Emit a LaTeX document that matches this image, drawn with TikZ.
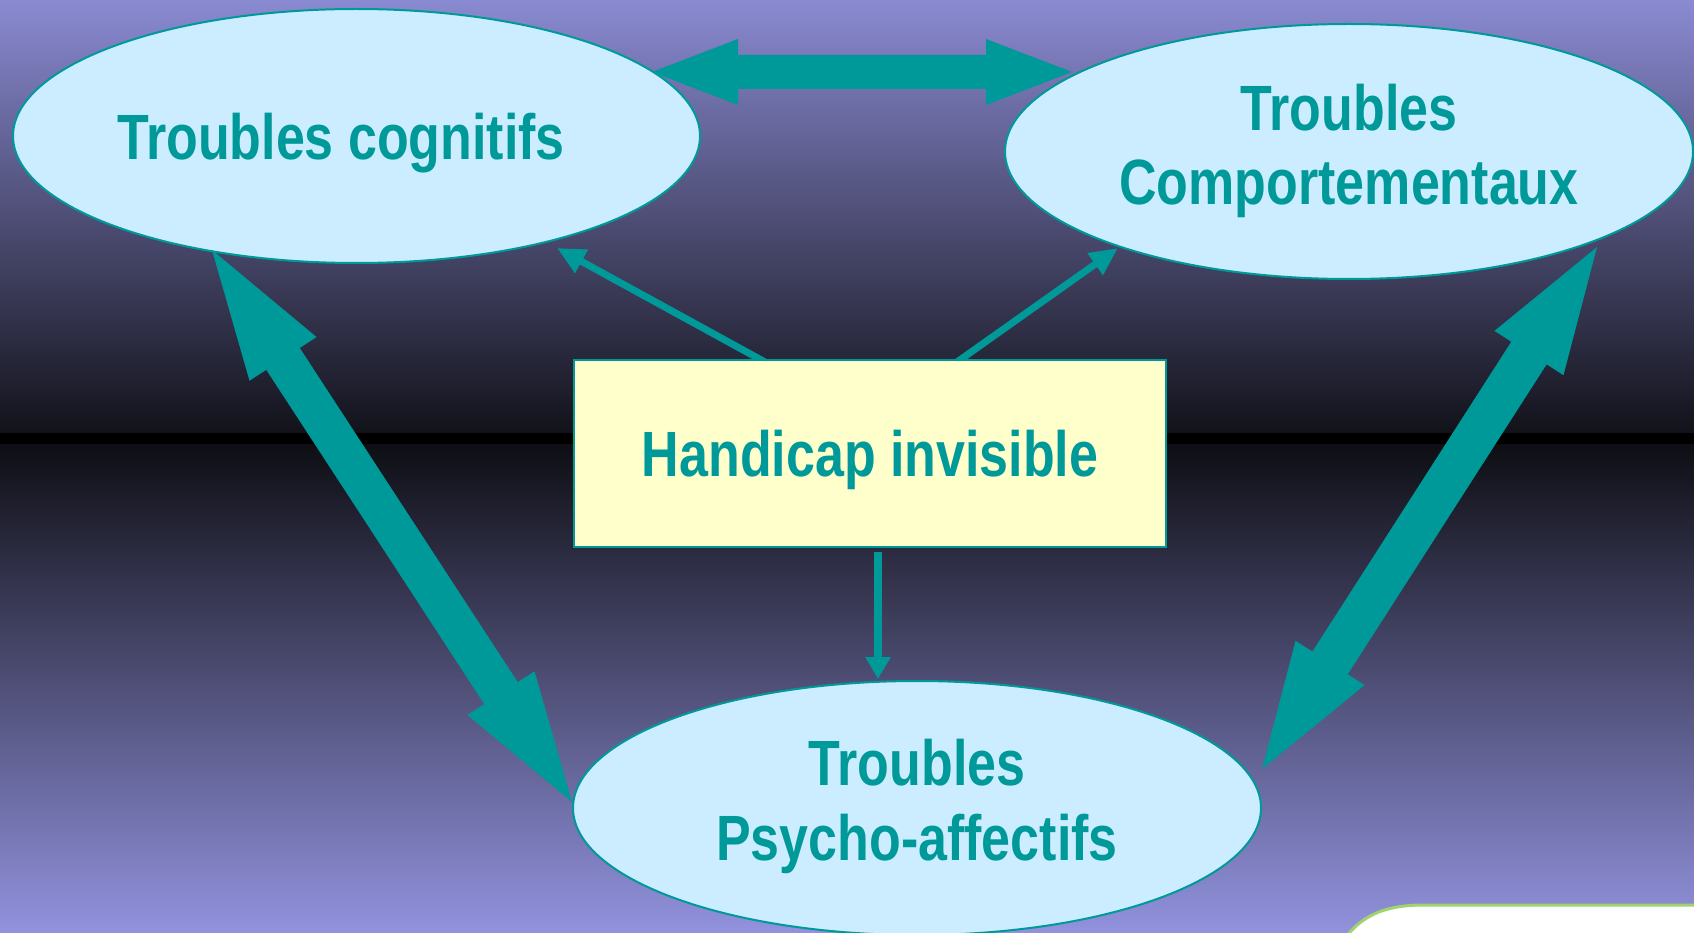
\documentclass[tikz,border=0pt]{standalone}
\usepackage{fontspec}
\newfontfamily\tfont[FakeStretch=0.812]{Liberation Sans}
\usetikzlibrary{shapes.geometric,arrows.meta,calc}
\definecolor{tealc}{HTML}{009999}
\definecolor{ovalfill}{HTML}{CCECFF}
\definecolor{boxfill}{HTML}{FFFFCC}
\definecolor{bgtop}{RGB}{138,138,210}
\definecolor{bgdark}{RGB}{18,18,26}
\definecolor{bgdarkb}{RGB}{14,14,20}
\definecolor{bgbot}{RGB}{146,146,222}
\definecolor{greenc}{RGB}{160,210,110}
% double-headed block arrow: #1,#2 end coordinates, #3 head length, #4 head half-width, #5 shaft half-width
\newcommand\dblblockarrow[5]{%
  \fill[arrowfill] (#1)
    -- ($(#1)!#3!(#2)!#4!90:(#2)$)
    -- ($(#1)!#3!(#2)!#5!90:(#2)$)
    -- ($(#2)!#3!(#1)!#5!-90:(#1)$)
    -- ($(#2)!#3!(#1)!#4!-90:(#1)$)
    -- (#2)
    -- ($(#2)!#3!(#1)!#4!90:(#1)$)
    -- ($(#2)!#3!(#1)!#5!90:(#1)$)
    -- ($(#1)!#3!(#2)!#5!-90:(#2)$)
    -- ($(#1)!#3!(#2)!#4!-90:(#2)$)
    -- cycle;}
\begin{document}
\begin{tikzpicture}[x=1pt,y=-1pt,
  oval/.style={ellipse, draw=tealc, line width=2pt, fill=ovalfill, inner sep=0pt, outer sep=0pt},
  hbox/.style={rectangle, draw=tealc, line width=2pt, fill=boxfill, inner sep=0pt, outer sep=0pt},
  lbl/.style={text=tealc, font=\tfont\bfseries\fontsize{64}{74}\selectfont, inner sep=0pt, anchor=base},
  arrowfill/.style={fill=tealc},
  thinarrow/.style={draw=tealc, line width=7pt, arrows={-Triangle[length=28pt,width=25pt]}},
  downarrow/.style={draw=tealc, line width=8pt, arrows={-Triangle[length=22pt,width=24pt]}}
]
\useasboundingbox (0,0) rectangle (1694,933);
% background
\shade[top color=bgtop, bottom color=bgdark] (0,0) rectangle (1694,433);
\fill[black] (0,433) rectangle (1694,444);
\shade[top color=bgdarkb, bottom color=bgbot] (0,444) rectangle (1694,933);
% corner decoration
\filldraw[fill=white, draw=greenc, line width=3pt] (1345,938) .. controls (1365,912) and (1390,905) .. (1425,905) -- (1698,905) -- (1698,938) -- cycle;
% ellipses
\node[oval, minimum width=687pt, minimum height=254pt] (cog) at (356.5,136) {};
\node[oval, minimum width=688pt, minimum height=255pt] (comp) at (1349,151.5) {};
\node[oval, minimum width=688pt, minimum height=254pt] (psy) at (917,808) {};
% small arrows from the box
\coordinate (s1) at (765,362);
\coordinate (s1e) at (557,248);
\coordinate (s2) at (957,362);
\coordinate (s2e) at (1118,248);
\draw[thinarrow] (s1) -- (s1e);
\draw[thinarrow] (s2) -- (s2e);
% box
\node[hbox, minimum width=592pt, minimum height=187pt] (hand) at (870,453.5) {};
\coordinate (v1) at (878,552);
\coordinate (v1e) at (878,679);
\draw[downarrow] (v1) -- (v1e);
% big arrows
\coordinate (a1) at (652,72);
\coordinate (a2) at (1072,72);
\dblblockarrow{a1}{a2}{86pt}{33pt}{17pt}
\coordinate (b1) at (212,250);
\coordinate (b2) at (572,802);
\dblblockarrow{b1}{b2}{130pt}{40pt}{20pt}
\coordinate (c1) at (1597,247);
\coordinate (c2) at (1262,769);
\dblblockarrow{c1}{c2}{126pt}{41pt}{21pt}
% texts
\node[lbl] (tcog) at (341,160) {Troubles cognitifs};
\node[lbl] (tcomp1) at (1349,131) {Troubles};
\node[lbl] (tcomp2) at (1349,205) {Comportementaux};
\node[lbl] (tpsy1) at (917,785) {Troubles};
\node[lbl] (tpsy2) at (917,860) {Psycho-affectifs};
\node[lbl] (thand) at (870,476) {Handicap invisible};
\end{tikzpicture}
\end{document}
